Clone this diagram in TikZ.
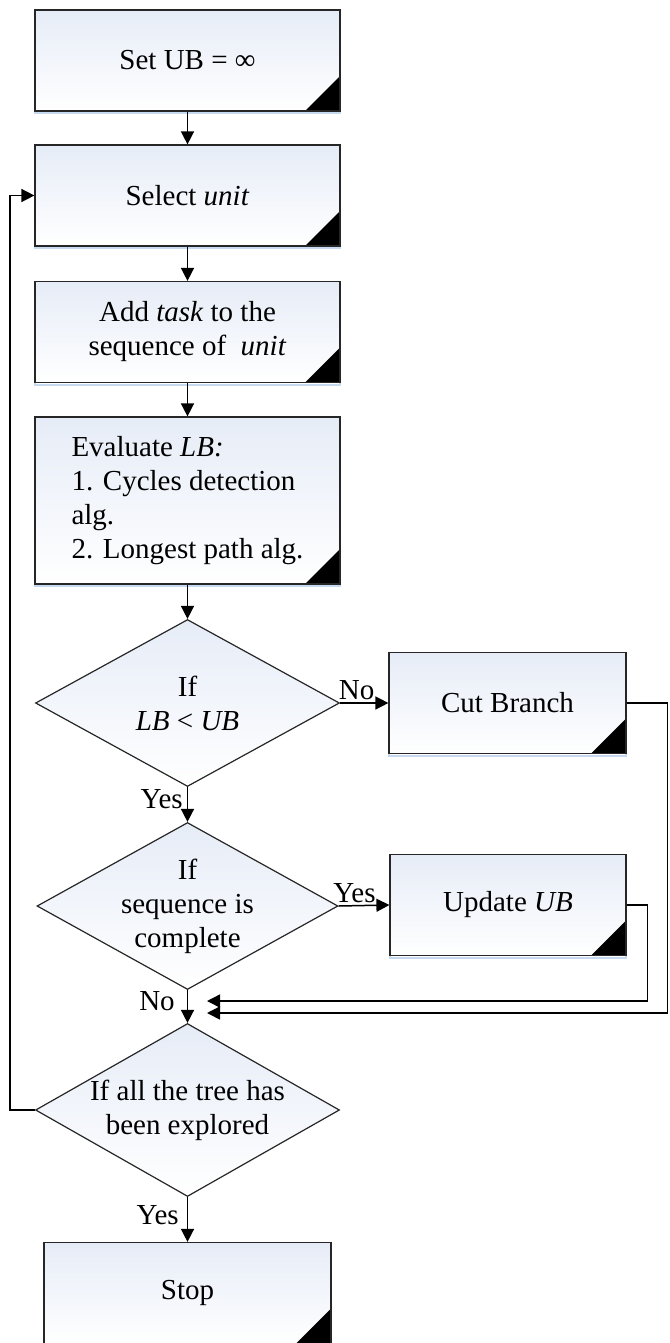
\documentclass[tikz,border=0pt]{standalone}
\usepackage{fontspec}
\setmainfont{Liberation Serif}
\usepackage{xcolor}
\usetikzlibrary{positioning, arrows.meta, shapes.geometric}

\definecolor{boxtop}{RGB}{230,236,247}
\definecolor{boxshadow}{RGB}{197,217,241}

\tikzset{
    txt/.style={font=\fontsize{14.5}{17}\selectfont},
    procbox/.style={txt, draw=black!85, line width=0.6pt, top color=boxtop, bottom color=white,
        minimum width=152.5pt, minimum height=50.5pt, align=center,
        preaction={draw=boxshadow, line width=1pt, transform canvas={yshift=-1pt}},
        path picture={\fill[black] (path picture bounding box.south east) -- ++(-17.5pt,0) -- ++(17.5pt,17.5pt) -- cycle;}},
    decision/.style={diamond, draw=black!85, line width=0.6pt, top color=boxtop, bottom color=white,
        minimum width=152pt, minimum height=83.5pt, inner sep=0pt},
    dtext/.style={txt, align=center, inner sep=0pt},
    flow/.style={-{Triangle[length=6.5pt,width=6.5pt]}, line width=0.75pt},
    lbl/.style={txt, inner sep=1pt}
}

\begin{document}
\begin{tikzpicture}[x=0.5pt, y=-0.5pt]
    \useasboundingbox (0,0) rectangle (669,1343);

    % boxes
    \node[procbox] (setub) at (187.5,60.5) {Set UB = ∞};
    \node[procbox] (select) at (187.5,195.5) {Select \textit{unit}};
    \node[procbox] (addtask) at (187.5,332) {Add \textit{task} to the\\sequence of \ \textit{unit}};
    \node[procbox, minimum height=83.5pt, align=left] (evallb) at (187.5,500.5)
        {Evaluate \textit{LB:}\\1. Cycles detection\\alg.\\2. Longest path alg.};
    \node[procbox, minimum width=118.5pt] (cut) at (507.5,703) {Cut Branch};
    \node[procbox, minimum width=118pt] (update) at (508,905) {Update \textit{UB}};
    \node[procbox, minimum width=143.5pt] (stop) at (187.5,1293) {Stop};

    % decisions
    \node[decision] (ifub) at (187.5,703) {};
    \node[dtext] (ifubtxt) at (ifub) {If\\\textit{LB} < \textit{UB}};
    \node[decision, minimum width=150.5pt] (ifseq) at (187.5,906) {};
    \node[dtext] (ifseqtxt) at (ifseq) {If\\sequence is\\complete};
    \node[decision, minimum height=86.5pt] (iftree) at (187.5,1110) {};
    \node[dtext] (iftreetxt) at (iftree) {If all the tree has\\been explored};

    \coordinate (mergea) at (207,1001);
    \coordinate (mergeb) at (207,1013);

    % connectors
    \draw[flow] (setub) -- (select);
    \draw[flow] (select) -- (addtask);
    \draw[flow] (addtask) -- (evallb);
    \draw[flow] (evallb) -- (ifub.north);
    \draw[flow] (ifub.east) -- (cut.west) node[lbl, pos=0, anchor=south west, xshift=-2pt] (noa) {No};
    \draw[flow] (ifub.south) -- (ifseq.north) node[lbl, pos=0, anchor=north east, xshift=-1pt] (yesa) {Yes};
    \draw[flow] (ifseq.east) -- (update.west) node[lbl, pos=0, anchor=south west, xshift=-4pt] (yesb) {Yes};
    \draw[flow] (ifseq.south) -- (iftree.north) node[lbl, pos=0.35, anchor=east, xshift=-5pt] (nob) {No};
    \draw[flow] (iftree.south) -- (stop.north) node[lbl, pos=0.4, anchor=east, xshift=-3pt] (yesc) {Yes};
    \draw[flow] (update.east) -- ++(21,0) |- (mergea);
    \draw[flow] (cut.east) -- ++(41,0) |- (mergeb);
    \draw[flow] (iftree.west) -- ++(-25,0) |- (select.west);
\end{tikzpicture}
\end{document}
